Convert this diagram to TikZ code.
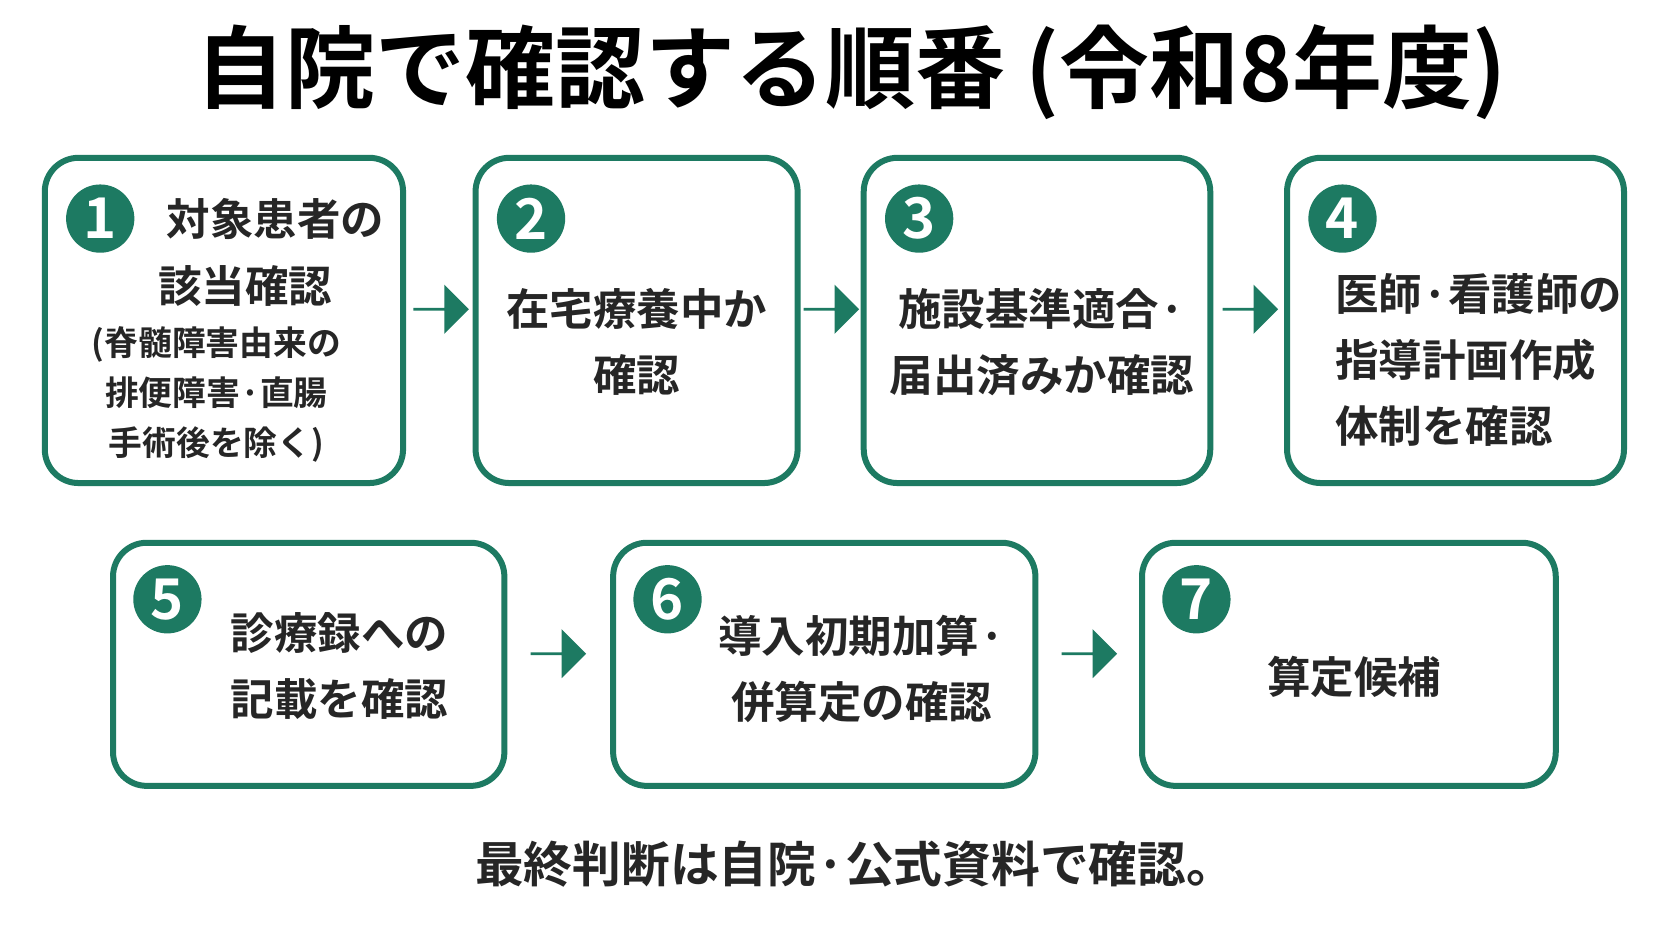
\documentclass[tikz,border=0pt]{standalone}
\usepackage{fontspec}
\setmainfont{Noto Sans CJK JP}[BoldFont={* Bold}]
\usetikzlibrary{shapes.arrows}
\definecolor{brand}{HTML}{1D7A62}
\tikzset{
  stepbox/.style={draw=brand, line width=1.6pt, rounded corners=9pt},
  num/.style={circle, fill=brand, text=white, minimum size=0.64cm, inner sep=0pt, font=\fontsize{15}{15}\selectfont\bfseries},
  txt/.style={font=\fontsize{11.6}{17.6}\selectfont\bfseries, text=black!85, align=center},
  small/.style={font=\fontsize{9}{13.3}\selectfont\bfseries, text=black!85, align=center},
  go/.style={single arrow, fill=brand, minimum height=0.52cm, minimum width=0.46cm, single arrow head extend=0.12cm, inner sep=0pt}
}
\begin{document}
\begin{tikzpicture}[x=0.01cm, y=-0.01cm]
\useasboundingbox[fill=white] (0,0) rectangle (1568,882);
\node[font=\fontsize{24}{24}\selectfont\bfseries] (title) at (798,68) {自院で確認する順番 (令和8年度)};
% upper row
\draw[stepbox] (42,148) rectangle (378,453);
\draw[stepbox] (446,148) rectangle (748,453);
\draw[stepbox] (810,148) rectangle (1135,453);
\draw[stepbox] (1207,148) rectangle (1523,453);
\node[num] (n1) at (94,205) {1};
\node[num] (n2) at (498,205) {2};
\node[num] (n3) at (862,205) {3};
\node[num] (n4) at (1259,205) {4};
\node[txt, anchor=west] (t1a) at (144,205) {対象患者の};
\node[txt] (t1b) at (230,268) {該当確認};
\node[small] (t1c) at (203,370) {(脊髄障害由来の\\排便障害·直腸\\手術後を除く)};
\node[txt] (t2) at (597,321) {在宅療養中か\\確認};
\node[txt] (t3) at (977,321) {施設基準適合·\\届出済みか確認};
\node[txt, align=left, anchor=west, font=\fontsize{11.6}{17.6}\selectfont\bfseries] (t4) at (1240,338) {医師·看護師の\\指導計画作成\\体制を確認};
\node[go] (a1) at (413,290) {};
\node[go] (a2) at (779,290) {};
\node[go] (a3) at (1172,290) {};
% lower row
\draw[stepbox] (106,509) rectangle (473,737);
\draw[stepbox] (575,509) rectangle (971,737);
\draw[stepbox] (1071,509) rectangle (1459,737);
\node[num] (n5) at (157,562) {5};
\node[num] (n6) at (626,562) {6};
\node[num] (n7) at (1122,562) {7};
\node[txt, align=left, anchor=west] (t5) at (204,625) {診療録への\\記載を確認};
\node[txt] (t6) at (808,627) {導入初期加算·\\併算定の確認};
\node[txt] (t7) at (1270,635) {算定候補};
\node[go] (a4) at (523,613) {};
\node[go] (a5) at (1021,613) {};
\node[font=\fontsize{13}{13}\selectfont\bfseries, text=black!85] (note) at (802,810) {最終判断は自院·公式資料で確認。};
\end{tikzpicture}
\end{document}
